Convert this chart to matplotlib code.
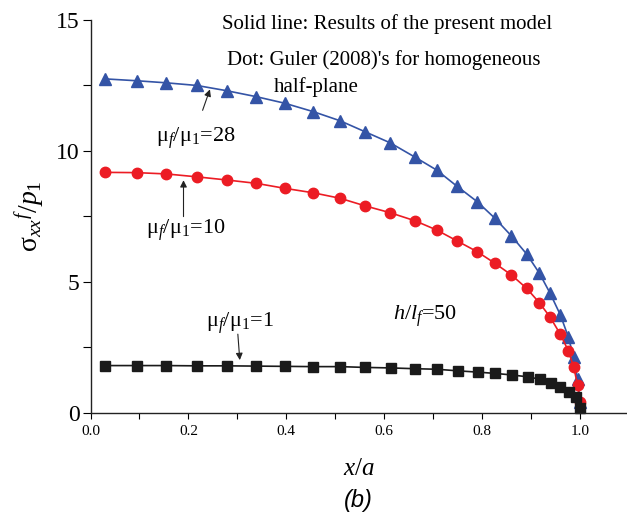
import numpy as np
import matplotlib
matplotlib.use('Agg')
from matplotlib import pyplot as plt
from matplotlib.ticker import MultipleLocator

plt.rcParams['font.family'] = ['Liberation Serif', 'DejaVu Serif']
plt.rcParams['mathtext.fontset'] = 'custom'
plt.rcParams['mathtext.rm'] = 'Liberation Serif'
plt.rcParams['mathtext.it'] = 'Liberation Serif:italic'

# x/a positions of the points and sigma_xx^f/p1 values
x_28 = [0.030, 0.094, 0.155, 0.217, 0.278, 0.339, 0.397, 0.455, 0.510, 0.561, 0.612, 0.663,
        0.707, 0.748, 0.790, 0.826, 0.860, 0.891, 0.917, 0.939, 0.960, 0.976, 0.987, 0.995, 1.0]
y_28 = [12.75, 12.68, 12.60, 12.50, 12.30, 12.07, 11.82, 11.50, 11.15, 10.73, 10.31, 9.76,
        9.27, 8.66, 8.06, 7.43, 6.75, 6.06, 5.33, 4.56, 3.73, 2.90, 2.12, 1.28, 0.42]

x_10 = x_28
y_10 = [9.18, 9.17, 9.12, 9.01, 8.89, 8.76, 8.57, 8.40, 8.19, 7.90, 7.64, 7.33,
        6.98, 6.57, 6.15, 5.71, 5.26, 4.75, 4.20, 3.65, 2.99, 2.37, 1.76, 1.06, 0.42]

x_1 = [0.030, 0.094, 0.155, 0.217, 0.278, 0.339, 0.397, 0.455, 0.510, 0.560, 0.614, 0.663,
       0.707, 0.750, 0.791, 0.827, 0.862, 0.893, 0.918, 0.941, 0.960, 0.978, 0.991, 1.0]
y_1 = [1.80, 1.80, 1.80, 1.79, 1.79, 1.78, 1.77, 1.76, 1.76, 1.73, 1.71, 1.68,
       1.66, 1.60, 1.55, 1.50, 1.44, 1.37, 1.28, 1.15, 1.00, 0.80, 0.61, 0.17]

W, H = 627, 515
fig = plt.figure(figsize=(W/100, H/100), dpi=100)
# axes: x=0 at 90.5 px, y=0 at 412.7 px, y=15 at 20 px
ax = fig.add_axes([90.5/W, 1-412.7/H, 1-90.5/W, (412.7-20)/H])

blue = '#3454a6'
red = '#ec1c24'
black = '#1a1a1a'
ax.plot(x_28, y_28, '-^', color=blue, lw=1.2, ms=8, clip_on=False)
ax.plot(x_10, y_10, '-o', color=red, lw=1.2, ms=7.5, clip_on=False)
ax.plot(x_1, y_1, '-s', color=black, lw=1.2, ms=7, clip_on=False)

ax.set_xlim(0, (W-90.5)/489.5)
ax.set_ylim(0, 15)
ax.spines['top'].set_visible(False)
ax.spines['right'].set_visible(False)
for s in ['left', 'bottom']:
    ax.spines[s].set_linewidth(1.0)
    ax.spines[s].set_color('#222222')

ax.xaxis.set_minor_locator(MultipleLocator(0.1))
ax.yaxis.set_major_locator(MultipleLocator(5))
ax.yaxis.set_minor_locator(MultipleLocator(2.5))
ax.set_xticks([0, 0.2, 0.4, 0.6, 0.8, 1.0])
ax.set_xticklabels(['0.0', '0.2', '0.4', '0.6', '0.8', '1.0'])
ax.tick_params(axis='x', which='both', direction='out', length=4, width=0.8, labelsize=11, pad=5)
ax.tick_params(axis='y', which='both', direction='out', length=6, width=0.8, labelsize=17, pad=2)

ax.set_xlabel('$x$/$a$', fontsize=18, labelpad=14)
ax.set_ylabel(r'σ$_{xx}$$^{f}$/$p_1$', fontsize=20, labelpad=6)

arrow = dict(arrowstyle='-|>', color='#222222', lw=0.8, mutation_scale=10, shrinkA=0, shrinkB=0)
ax.annotate('', xy=(0.244, 12.35), xytext=(0.229, 11.55), arrowprops=arrow)
ax.annotate('', xy=(0.190, 8.88), xytext=(0.190, 7.49), arrowprops=arrow)
ax.annotate('', xy=(0.305, 2.01), xytext=(0.301, 3.0), arrowprops=arrow)

ax.text(0.215, 10.5, 'μ$_f$/μ$_1$=28', fontsize=16, ha='center', va='center')
ax.text(0.195, 6.97, 'μ$_f$/μ$_1$=10', fontsize=16, ha='center', va='center')
ax.text(0.306, 3.42, 'μ$_f$/μ$_1$=1', fontsize=16, ha='center', va='center')
ax.text(0.683, 3.70, '$h$/$l_f$=50', fontsize=16, ha='center', va='center')

fig.text(387/W, 1-24/H, 'Solid line: Results of the present model', fontsize=15, ha='center', va='center')
fig.text(384/W, 1-60/H, "Dot: Guler (2008)'s for homogeneous", fontsize=15, ha='center', va='center')
fig.text(316/W, 1-87/H, 'half-plane', fontsize=15, ha='center', va='center')
fig.text(358/W, 1-500/H, '(b)', fontsize=17, ha='center', va='center',
         family='Liberation Sans', style='italic')

fig.savefig('out.png', dpi=100)
